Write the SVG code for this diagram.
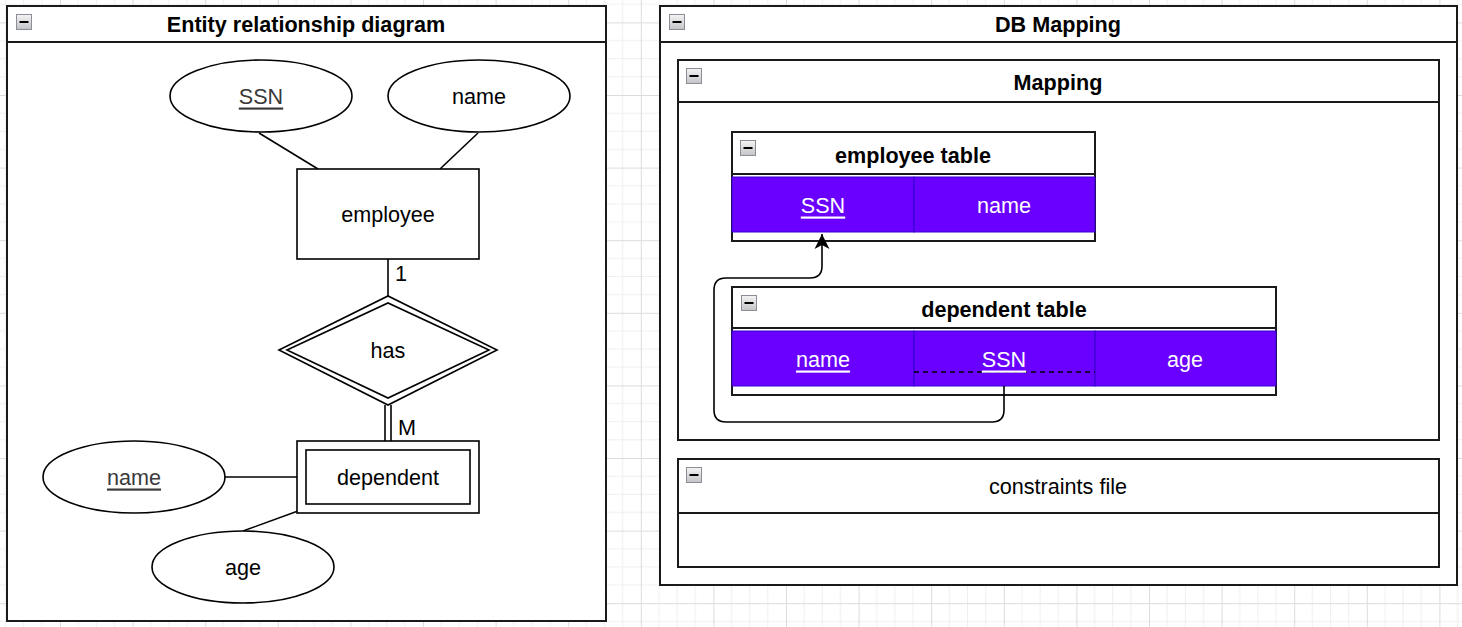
<svg xmlns="http://www.w3.org/2000/svg" width="1462" height="627" viewBox="0 0 1462 627">
<style>
text{font-family:"Liberation Sans",Arial,Helvetica,sans-serif;text-anchor:middle;dominant-baseline:central;fill:#000}
.title{font-size:21.6px;font-weight:bold}
.lbl{font-size:21.6px}
.key{text-decoration:underline}
.gray{fill:#3a3a3a}
.wt{fill:#fff;font-size:21.6px}
.box{fill:#fff;stroke:#1a1a1a;stroke-width:2}
.shp{fill:#fff;stroke:#000;stroke-width:1.6}
.ln{fill:none;stroke:#000;stroke-width:1.6}
.cell{fill:#6a00ff;stroke:#3700cc;stroke-width:1}
</style>
<defs>
<pattern id="grid" patternUnits="userSpaceOnUse" x="60" y="95" width="72.6" height="72.6">
<path d="M18.15 0V72.6M36.3 0V72.6M54.45 0V72.6M0 18.15H72.6M0 36.3H72.6M0 54.45H72.6" stroke="#efefef" stroke-width="1" fill="none"/>
<path d="M0.5 0V72.6M0 0.5H72.6" stroke="#dcdcdc" stroke-width="1" fill="none"/>
</pattern>
<linearGradient id="ig" x1="0" y1="0" x2="0" y2="1">
<stop offset="0" stop-color="#f4f4f4"/><stop offset="1" stop-color="#c4c4c8"/>
</linearGradient>
<g id="icon">
<rect x="0.5" y="0.5" width="15" height="15" fill="url(#ig)" stroke="#8a8e96" stroke-width="1"/>
<path d="M3.5 8H12.5" stroke="#000" stroke-width="2"/>
</g>
<marker id="arr" viewBox="0 0 16 16" refX="15" refY="8" markerWidth="16" markerHeight="16" markerUnits="userSpaceOnUse" orient="auto">
<path d="M15 8L0 0.5L4 8L0 15.5Z" fill="#000"/>
</marker>
</defs>
<rect width="1462" height="627" fill="#fff"/>
<rect width="1462" height="627" fill="url(#grid)"/>

<g id="er-container">
<rect class="box" x="7" y="6" width="599" height="615"/>
<line x1="7" y1="42" x2="606" y2="42" stroke="#1a1a1a" stroke-width="2"/>
<use href="#icon" x="16" y="14"/>
<text class="title" x="306" y="24">Entity relationship diagram</text>
</g>

<g id="er-connectors">
<line class="ln" x1="259" y1="133" x2="318" y2="169"/>
<line class="ln" x1="478" y1="133" x2="440" y2="169"/>
<line class="ln" x1="388" y1="259" x2="388" y2="296"/>
<text class="lbl" x="401" y="273">1</text>
<line class="ln" x1="385" y1="405" x2="385" y2="441"/>
<line class="ln" x1="391" y1="405" x2="391" y2="441"/>
<text class="lbl" x="407" y="427">M</text>
<line class="ln" x1="225" y1="477" x2="297" y2="477"/>
<line class="ln" x1="243" y1="531" x2="298" y2="511"/>
</g>

<g id="er-ssn"><ellipse class="shp" cx="261" cy="96" rx="91" ry="36"/><text class="lbl key gray" x="261" y="96">SSN</text></g>
<g id="er-name"><ellipse class="shp" cx="479" cy="96" rx="91" ry="36"/><text class="lbl" x="479" y="96">name</text></g>
<g id="er-employee"><rect class="shp" x="297" y="169" width="182" height="90"/><text class="lbl" x="388" y="214">employee</text></g>
<g id="er-has">
<polygon class="shp" points="279,350 388,296 497,350 388,405"/>
<polygon class="shp" points="287,350 388,303 489,350 388,398"/>
<text class="lbl" x="388" y="350">has</text>
</g>
<g id="er-dependent">
<rect class="shp" x="297" y="441" width="182" height="72"/>
<rect class="shp" x="306" y="450" width="164" height="54"/>
<text class="lbl" x="388" y="477">dependent</text>
</g>
<g id="er-depname"><ellipse class="shp" cx="134" cy="477" rx="91" ry="36"/><text class="lbl key gray" x="134" y="477">name</text></g>
<g id="er-age"><ellipse class="shp" cx="243" cy="567" rx="91" ry="36"/><text class="lbl" x="243" y="567">age</text></g>

<g id="db-container">
<rect class="box" x="660" y="6" width="797" height="579"/>
<line x1="660" y1="42" x2="1457" y2="42" stroke="#1a1a1a" stroke-width="2"/>
<use href="#icon" x="669" y="14"/>
<text class="title" x="1058" y="24">DB Mapping</text>
</g>

<g id="mapping-container">
<rect class="box" x="678" y="60" width="761" height="380"/>
<line x1="678" y1="102" x2="1439" y2="102" stroke="#1a1a1a" stroke-width="2"/>
<use href="#icon" x="686" y="68"/>
<text class="title" x="1058" y="82">Mapping</text>
</g>

<g id="employee-table">
<rect class="box" x="732" y="132" width="363" height="109"/>
<line x1="732" y1="174" x2="1095" y2="174" stroke="#1a1a1a" stroke-width="2"/>
<use href="#icon" x="740" y="140"/>
<text class="title" x="913" y="155">employee table</text>
<rect class="cell" x="732" y="177" width="182" height="55"/>
<rect class="cell" x="914" y="177" width="181" height="55"/>
<text class="wt key" x="823" y="205">SSN</text>
<text class="wt" x="1004" y="205">name</text>
</g>

<g id="dependent-table">
<rect class="box" x="732" y="287" width="544" height="108"/>
<line x1="732" y1="328" x2="1276" y2="328" stroke="#1a1a1a" stroke-width="2"/>
<use href="#icon" x="741" y="295"/>
<text class="title" x="1004" y="309">dependent table</text>
<rect class="cell" x="732" y="331" width="182" height="55"/>
<rect class="cell" x="914" y="331" width="181" height="55"/>
<rect class="cell" x="1095" y="331" width="181" height="55"/>
<line x1="914" y1="372" x2="1095" y2="372" stroke="#000" stroke-width="1.6" stroke-dasharray="5 4"/>
<text class="wt key" x="823" y="359">name</text>
<text class="wt key" x="1004" y="359">SSN</text>
<text class="wt" x="1185" y="359">age</text>
</g>

<g id="constraints-file">
<rect class="box" x="678" y="459" width="761" height="108"/>
<line x1="678" y1="513" x2="1439" y2="513" stroke="#1a1a1a" stroke-width="2"/>
<use href="#icon" x="686" y="467"/>
<text class="lbl" x="1058" y="486">constraints file</text>
</g>

<g id="db-connectors">
<path class="ln" d="M1004 386V410Q1004 422 992 422H726Q714 422 714 410V290Q714 278 726 278H810Q822 278 822 266V234" marker-end="url(#arr)"/>
</g>
</svg>
